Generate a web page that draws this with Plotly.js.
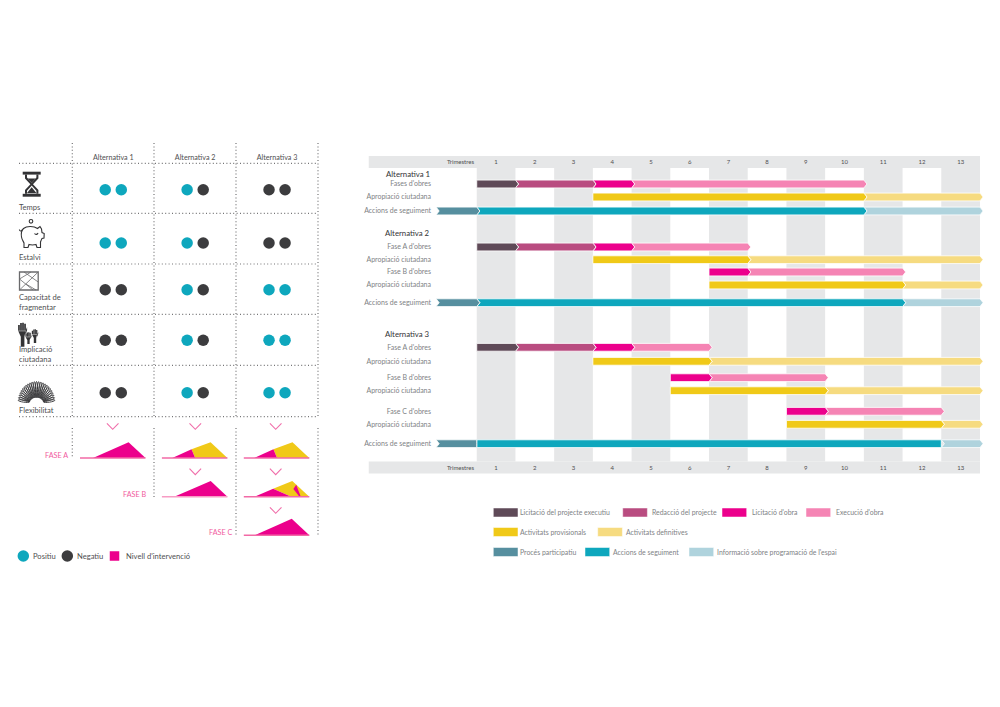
<!DOCTYPE html>
<html><head><meta charset="utf-8">
<script src="https://cdn.plot.ly/plotly-3.0.1.min.js"></script>
<style>html,body{margin:0;padding:0;background:#fff}#c{width:1000px;height:707px}</style>
</head><body><div id="c"></div>
<script>
// ---------- DATA ----------
const quarters = ['1','2','3','4','5','6','7','8','9','10','11','12','13'];
const alternatives = ['Alternativa 1','Alternativa 2','Alternativa 3'];
const rowLabels = ["Fases d'obres",'Apropiació ciutadana','Accions de seguiment',
  "Fase A d'obres",'Apropiació ciutadana',"Fase B d'obres",'Apropiació ciutadana','Accions de seguiment',
  "Fase A d'obres",'Apropiació ciutadana',"Fase B d'obres",'Apropiació ciutadana',"Fase C d'obres",'Apropiació ciutadana','Accions de seguiment'];
// [row, start quarter, end quarter]
const licitacioProjecte = [[0,0,1],[3,0,1],[8,0,1]];
const redaccioProjecte = [[0,1,3],[3,1,3],[8,1,3]];
const licitacioObra = [[0,3,4],[3,3,4],[5,6,7],[8,3,4],[10,5,6],[12,8,9]];
const execucioObra = [[0,4,10],[3,4,7],[5,7,11],[8,4,6],[10,6,9],[12,9,12]];
const activitatsProvisionals = [[1,3,10],[4,3,7],[6,6,11],[9,3,6],[11,5,9],[13,8,12]];
const activitatsDefinitives = [[1,10,13],[4,7,13],[6,11,13],[9,6,13],[11,9,13],[13,12,13]];
const procesParticipatiu = [[2,-1.05,0],[7,-1.05,0],[14,-1.05,0]];
const accionsSeguiment = [[2,0,10],[7,0,11],[14,0,12]];
const informacioEspai = [[2,10,13],[7,11,13],[14,12,13]];

const criteria = ['Temps','Estalvi','Capacitat de<br>fragmentar','Implicació<br>ciutadana','Flexibilitat'];
// 1 = positiu, 0 = negatiu: [alternative][criterion][dot]
const assessmentAlt1 = [[1,1],[1,1],[0,0],[0,0],[0,0]];
const assessmentAlt2 = [[1,0],[1,0],[1,0],[1,0],[1,0]];
const assessmentAlt3 = [[0,0],[0,0],[1,1],[1,1],[1,1]];

// intervention profiles: [share of phase width, level]
const profileAlt1A = [[.198,0],[.741,15.7],[1,0]];
const profileAlt2BMag = [[.188,0],[.745,15.7],[1,0]];
const profileAlt3CMag = [[.167,0],[.732,16.6],[1,0]];
const profileSplitMag = [[.158,0],[.452,8.7],[.508,0]];
const profileSplitYel = [[.452,8.7],[.743,15.7],[1,0],[.508,0]];
const profileAlt3BMag = [[.163,0],[.448,8],[.725,0]];
const profileAlt3BYel = [[.448,8],[.74,15.7],[1,0],[.725,0]];
const profileAlt3BSliver = [[.757,7.7],[.80,12],[.87,0],[.85,0]];

// ---------- LAYOUT CONSTANTS ----------
const FONT='Lato';
const GREY='#808285', DARK='#4f4f51', BAND='#e6e7e8';
const MAG='#ec008c', YEL='#f0c918', PINK='#f26aa6', TEAL='#0ea7bd', INK='#3c3c3e';
const rowY=[184,197,211,247,259.7,272,285,302.7,347.3,361.3,377.7,390.7,411.3,424.3,443.7];
const headY=[173.7,233,334];
const H=3.9, TIP=0.08;
const flatJoinRows=[14];
const x0px=476.7, colPx=38.7;
const lx0=72.3, lcol=81.9;
const X=p=>(p-lx0)/lcol;
const px=x=>x/1000, py=y=>1-y/707;

const series=[
 ['Licitació del projecte executiu',licitacioProjecte,'#5f4a58'],
 ['Redacció del projecte',redaccioProjecte,'#b94c80'],
 ["Licitació d'obra",licitacioObra,MAG],
 ["Execució d'obra",execucioObra,'#f584b4'],
 ['Activitats provisionals',activitatsProvisionals,YEL],
 ['Activitats definitives',activitatsDefinitives,'#f6db80'],
 ['Procés participatiu',procesParticipatiu,'#568f9f'],
 ['Accions de seguiment',accionsSeguiment,TEAL],
 ['Informació sobre programació de l\'espai',informacioEspai,'#afd3dd']
];
const all=series.flatMap(s=>s[1]);
const traces=[], shapes=[], ann=[];

// header bands and stripes
[[156,168],[461.5,473.5]].forEach(b=>shapes.push({type:'rect',layer:'below',xref:'x',yref:'y',x0:-2.796,x1:13,y0:b[0],y1:b[1],fillcolor:BAND,line:{width:0}}));
quarters.forEach((q,i)=>{ if(i%2==0) shapes.push({type:'rect',layer:'below',xref:'x',yref:'y',x0:i,x1:i+1,y0:168,y1:461.5,fillcolor:BAND,line:{width:0}}); });

// gantt bars
series.slice().reverse().forEach(s=>{
  const xs=[],ys=[];
  s[1].forEach(([r,a,b])=>{
    const y=rowY[r], flat=flatJoinRows.includes(r)&&(a===0||b===0);
    const hasPrev=all.some(o=>o[0]===r&&o[2]===a)||a<0;
    const tip=flat?0:TIP, notch=(hasPrev&&!flat)||a<0?TIP:0;
    xs.push(a,b,b+tip,b,a,a+notch,a,null);
    ys.push(y-H,y-H,y,y+H,y+H,y,y-H,null);
  });
  traces.push({type:'scatter',name:s[0],x:xs,y:ys,xaxis:'x',yaxis:'y',mode:'lines',fill:'toself',fillcolor:s[2],line:{color:'#ffffff',width:.8},hoverinfo:'skip',showlegend:false});
});
// carries top axis
traces.push({type:'scatter',x:[0],y:[162],xaxis:'x3',yaxis:'y',mode:'markers',marker:{opacity:0},hoverinfo:'skip',showlegend:false});

// assessment dots
const assess=[assessmentAlt1,assessmentAlt2,assessmentAlt3];
const critY=[189.7,243,289.7,340.3,392.7];
[1,0].forEach(v=>{
  const xs=[],ys=[];
  assess.forEach((alt,a)=>alt.forEach((pair,c)=>pair.forEach((d,k)=>{
    if(d===v){xs.push(a+.5+(k?.098:-.098)); ys.push(critY[c]);}
  })));
  traces.push({type:'scatter',name:v?'Positiu':'Negatiu',x:xs,y:ys,xaxis:'x2',yaxis:'y',mode:'markers',marker:{size:11.5,color:v?TEAL:INK},hoverinfo:'skip',showlegend:false});
});

// intervention profiles
const BASE=[458,496.7,535.3];
function prof(col,phase,pts,color){
  const xs=pts.map(p=>col+.094+.8*p[0]), ys=pts.map(p=>BASE[phase]-p[1]);
  xs.push(xs[0]);ys.push(ys[0]);
  traces.push({type:'scatter',x:xs,y:ys,xaxis:'x2',yaxis:'y',mode:'lines',fill:'toself',fillcolor:color,line:{width:0},hoverinfo:'skip',showlegend:false});
}
function base(col,phase,color){
  traces.push({type:'scatter',x:[col+.094,col+.894],y:[BASE[phase],BASE[phase]],xaxis:'x2',yaxis:'y',mode:'lines',line:{color:color,width:1.4},hoverinfo:'skip',showlegend:false});
}
prof(0,0,profileAlt1A,MAG); base(0,0,PINK);
prof(1,0,profileSplitYel,YEL); prof(1,0,profileSplitMag,MAG); base(1,0,PINK);
prof(2,0,profileSplitYel,YEL); prof(2,0,profileSplitMag,MAG); base(2,0,PINK);
prof(1,1,profileAlt2BMag,MAG); base(1,1,'#f79cc4');
prof(2,1,profileAlt3BYel,YEL); prof(2,1,profileAlt3BMag,MAG); prof(2,1,profileAlt3BSliver,MAG); base(2,1,PINK);
prof(2,2,profileAlt3CMag,MAG); base(2,2,PINK);

// grid
const dot={color:'#747476',width:1.2,dash:'1px,2.4px'};
[163.3,213.3,264,314.3,365.3,416.7].forEach(y=>shapes.push({type:'line',xref:'x2',yref:'y',x0:X(19),x1:X(318),y0:y,y1:y,line:dot}));
[72.3,154,236,318].forEach(x=>shapes.push({type:'line',xref:'x2',yref:'y',x0:X(x),x1:X(x),y0:143,y1:416.7,line:dot}));
[[72.3,458],[154,497],[236,535],[318,535]].forEach(v=>shapes.push({type:'line',xref:'x2',yref:'y',x0:X(v[0]),x1:X(v[0]),y0:428,y1:v[1],line:dot}));
// chevrons
[[112.7,423.3],[195.3,423.3],[275.7,423.3],[195.3,468.7],[275.7,468.7],[275.7,507.3]].forEach(c=>{
  traces.push({type:'scatter',x:[X(c[0]-5.8),X(c[0]),X(c[0]+5.8)],y:[c[1],c[1]+6,c[1]],xaxis:'x2',yaxis:'y',mode:'lines',line:{color:'#f06eaa',width:1.1},hoverinfo:'skip',showlegend:false});
});

// icons
function P(d,o){ shapes.push(Object.assign({type:'path',xref:'x2',yref:'y',path:d.replace(/(-?[\d.]+),(-?[\d.]+)/g,(m,a,b)=>X(+a)+','+b)},o)); }
const ink={line:{color:'#333335',width:1.1}};
const solid={fillcolor:'#333335',line:{width:0}};
// hourglass
P('M22.7,171.7L40.7,171.7L40.7,174.6L22.7,174.6Z',solid);
P('M22.7,193.8L40.7,193.8L40.7,196.7L22.7,196.7Z',solid);
P('M25,174.6L25,178.5L30.4,184.2L25,190L25,193.8L27,193.8L27,190.8L32,185.2L32,183.2L27,177.6L27,174.6Z',solid);
P('M38.4,174.6L38.4,178.5L33,184.2L38.4,190L38.4,193.8L36.4,193.8L36.4,190.8L31.4,185.2L31.4,183.2L36.4,177.6L36.4,174.6Z',solid);
P('M27.8,178.6L35.6,178.6L31.7,183Z',solid);
P('M26.8,193.2L31.7,187.2L36.6,193.2Z',solid);
// piggy
P('M31,219.5C32,219.5 32.8,220.3 32.8,221.3C32.8,222.3 32,223.1 31,223.1C30,223.1 29.2,222.3 29.2,221.3C29.2,220.3 30,219.5 31,219.5Z',ink);
P('M23.5,228.5C21.5,230.5 21,234 21.5,237C22,240 23.5,241.5 24,243L24,247.5L28,247.5L29,244.5C32,245.3 34,245 36,244.5L37,247.5L40.5,247.5L40.5,242C41,240.5 41.5,239.5 42,238.5L44,238L44.2,233.5L42,232.5L41.5,229L40,226.5L37.5,228.5C34,226 27,225.5 23.5,228.5Z',ink);
P('M22.5,229.5C21,232 19.5,231 19.4,229.5',ink);
P('M34.5,233.5C35.5,235 37.5,234.5 38,233',ink);
// box
P('M19.5,272L38.2,272L38.2,290L19.5,290Z',{line:{color:'#6a6a6c',width:1.3}});
P('M19.5,290L38.2,272M19.5,279L31,272M19.5,279L33,290M24,272L38.2,282M26,284L36,290',{line:{color:'#6a6a6c',width:.8}});
// hands: arm, palm, four fingers and a thumb
function hand(cx,top,bottom,w,fl,arm){
  const l=cx-w/2, fw=w*.19, gap=w*.035, pb=top+fl*1.75;
  let d=`M${cx-arm/2},${bottom}L${cx+arm/2},${bottom}L${cx+arm/2},${pb}L${l+w*.84},${top+fl}L${l},${top+fl}L${cx-arm/2},${pb}Z`;
  [.55,.1,0,.25].forEach((o,i)=>{
    const a=l+i*(fw+gap), t=top+fl*o*.5;
    d+=`M${a},${top+fl+.5}L${a},${t}L${a+fw},${t}L${a+fw},${top+fl+.5}Z`;
  });
  d+=`M${l+w*.8},${top+fl+1}L${l+w},${top+fl*.55}L${l+w},${top+fl*.9}L${l+w*.84},${top+fl*1.5}Z`;
  P(d,solid);
}
hand(22.6,322.7,346.7,9,8,3.6); hand(28.5,332.3,344,6.2,4.5,2.3); hand(35,329.3,343,6.4,5,2.4);
// slinky
(function(){
  let d='';
  for(let a=6;a<=174;a+=7){
    const r=a*Math.PI/180, cx=36.5, cy=402.5;
    const ix=cx+7*Math.cos(r), iy=cy-5*Math.sin(r), ox=cx+18.5*Math.cos(r), oy=cy-21*Math.sin(r);
    const wx=1.4*Math.sin(r), wy=1.4*Math.cos(r);
    d+=`M${ix.toFixed(2)},${iy.toFixed(2)}C${(ix+wx).toFixed(2)},${(iy+wy).toFixed(2)} ${(ox+wx).toFixed(2)},${(oy+wy).toFixed(2)} ${ox.toFixed(2)},${oy.toFixed(2)}C${(ox-wx).toFixed(2)},${(oy-wy).toFixed(2)} ${(ix-wx).toFixed(2)},${(iy-wy).toFixed(2)} ${ix.toFixed(2)},${iy.toFixed(2)}`;
  }
  P(d,{line:{color:'#333335',width:.9}});
})();

// text helper
function T(text,x,y,size,color,anchor,extra){
  ann.push(Object.assign({xref:'paper',yref:'paper',x:px(x),y:py(y),text,showarrow:false,xanchor:anchor||'left',yanchor:'middle',borderpad:0,font:{family:FONT,size,color}},extra||{}));
}
headY.forEach((y,i)=>T(alternatives[i],431,y,7.8,'#333335','right'));
[206.7,257,301.5,354.3,410.3].forEach((y,i)=>T(criteria[i],17.5,y,7.6,DARK,'left',{align:'left'}));
[['FASE A',69,455.3],['FASE B',146.7,494.3],['FASE C',232.7,532.7]].forEach(f=>T(f[0],f[1],f[2],7.2,'#f15a9e','right'));
// bottom-left key
traces.push({type:'scatter',x:[X(23.3),X(67.3)],y:[556,556],xaxis:'x2',yaxis:'y',mode:'markers',marker:{size:11.5,color:[TEAL,INK]},hoverinfo:'skip',showlegend:false});
traces.push({type:'scatter',x:[X(114.5)],y:[556],xaxis:'x2',yaxis:'y',mode:'markers',marker:{size:9.5,symbol:'square',color:MAG},hoverinfo:'skip',showlegend:false});
T('Positiu',32,556,7.6,DARK);T('Negatiu',75.5,556,7.6,DARK);T("Nivell d'intervenció",124.5,556,7.6,DARK);

// gantt key
const keyPos=[[493.3,512.5,519],[622.7,512.5,650.5],[722,512.5,750.5],[806,512.5,834.5],
 [493.3,532,519],[597.7,532,624.5],[493.3,552,519],[585,552,611.7],[689,552,715.7]];
series.forEach((s,i)=>{
  const k=keyPos[i];
  shapes.push({type:'rect',xref:'paper',yref:'paper',x0:px(k[0]),x1:px(k[0]+24.7),y0:py(k[1]-4.5),y1:py(k[1]+4.5),fillcolor:s[2],line:{color:'#ffffff',width:.5}});
  T(s[0],k[2],k[1]-.5,6.9,GREY);
});

const fontTick={family:FONT,size:6,color:DARK};
const tickv=[-0.42].concat(quarters.map((q,i)=>i+.5)), tickt=['Trimestres'].concat(quarters);
const noGrid={showgrid:false,zeroline:false,showline:false,ticks:'',fixedrange:true};
const GR=[-2.796,13+ (0.99-0.98)*1000/colPx];
const layout={
  width:1000,height:707,margin:{l:0,r:0,t:0,b:0},paper_bgcolor:'#fff',plot_bgcolor:'rgba(0,0,0,0)',showlegend:false,
  font:{family:FONT},
  xaxis:Object.assign({},noGrid,{domain:[.3685,.99],range:GR,anchor:'free',position:py(463),side:'bottom',tickmode:'array',tickvals:tickv,ticktext:tickt,tickfont:fontTick}),
  xaxis3:Object.assign({},noGrid,{domain:[.3685,.99],range:GR,overlaying:'x',anchor:'free',position:py(165),side:'top',tickmode:'array',tickvals:tickv,ticktext:tickt,tickfont:fontTick}),
  xaxis2:Object.assign({},noGrid,{domain:[0,.34],range:[X(0),X(340)],anchor:'free',position:py(161),side:'top',tickmode:'array',tickvals:[.5,1.5,2.5],ticktext:alternatives,tickfont:{family:FONT,size:7.2,color:DARK}}),
  yaxis:Object.assign({},noGrid,{domain:[0,1],range:[707,0],anchor:'free',position:.431,side:'left',tickmode:'array',tickvals:rowY,ticktext:rowLabels,tickfont:{family:FONT,size:7,color:GREY}}),
  shapes,annotations:ann
};
Plotly.newPlot('c',traces,layout,{displayModeBar:false,staticPlot:true});
</script></body></html>
